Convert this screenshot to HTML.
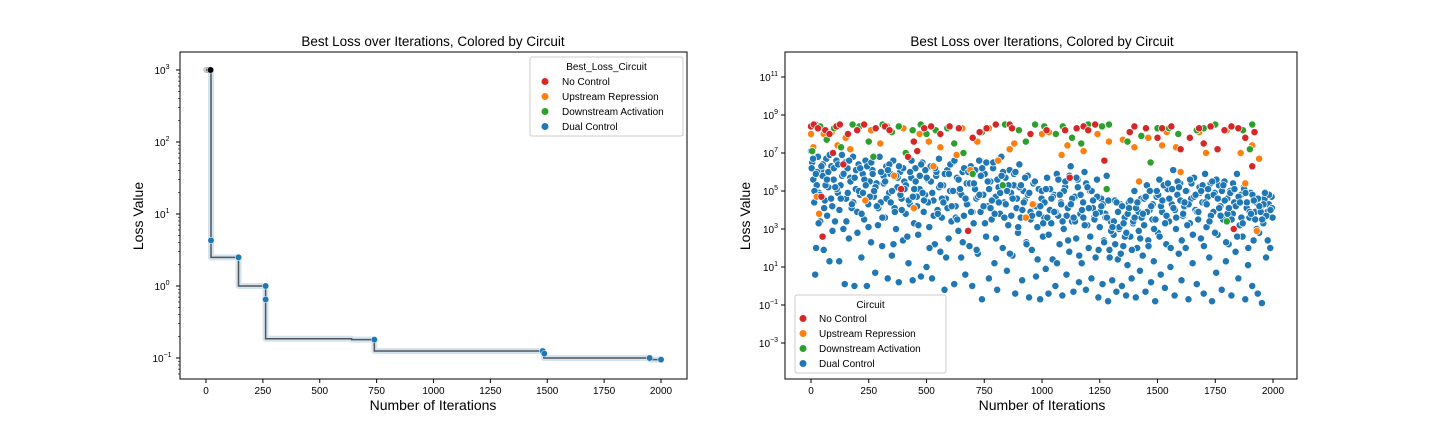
<!DOCTYPE html>
<html><head><meta charset="utf-8"><style>
body{margin:0;background:#fff;}
svg{display:block;font-family:"Liberation Sans","DejaVu Sans",sans-serif;}
</style></head><body>
<svg id="svg" width="1440" height="432" viewBox="0 0 1440 432" xmlns="http://www.w3.org/2000/svg">
<rect width="1440" height="432" fill="#fff"/>
<g id="left"></g>
<g id="right"></g>
</svg>
<script>
// ---------- Left chart data ----------
const stepIter = [0, 22, 143, 262, 640, 740, 1485, 1950, 2000];
const stepLoss = [1000, 2.5, 1.0, 0.185, 0.18, 0.125, 0.1, 0.095, 0.095];
const bestPtIter = [20, 22, 143, 262, 262, 740, 1480, 1487, 1950, 2000];
const bestPtLoss = [1000, 4.3, 2.5, 1.0, 0.65, 0.18, 0.125, 0.115, 0.1, 0.095];
const bestPtCircuit = ["none","dual","dual","dual","dual","dual","dual","dual","dual","dual"];
const leftYTicks = [-1, 0, 1, 2, 3];
const xTicks = [0, 250, 500, 750, 1000, 1250, 1500, 1750, 2000];
const rightYTicks = [-3, -1, 1, 3, 5, 7, 9, 11];
const circuitNames = ["No Control", "Upstream Repression", "Downstream Activation", "Dual Control"];

// ---------- Right chart data (iteration, log10 loss) ----------
const dualIter = [0,5,10,14,18,22,25,30,35,40,44,50,55,60,66,70,75,80,88,92,98,104,110,116,122,128,134,140,146,152,158,164,170,176,182,188,194,200,206,212,218,224,230,236,242,248,254,260,266,272,278,284,290,296,302,308,314,320,326,332,338,344,350,356,362,368,374,380,386,392,398,404,410,416,422,428,434,440,446,452,458,464,470,476,482,488,494,500,506,512,518,524,530,536,542,548,554,560,566,572,578,584,590,596,602,608,614,620,626,632,638,644,650,656,662,668,674,680,686,692,698,704,710,716,722,728,734,740,746,752,758,764,770,776,782,788,794,800,806,812,818,824,830,836,842,848,854,860,866,872,878,884,890,896,902,908,914,920,926,932,938,944,950,956,962,968,974,980,986,992,998,1004,1010,1016,1022,1028,1034,1040,1046,1052,1058,1064,1070,1076,1082,1088,1094,1100,1106,1112,1118,1124,1130,1136,1142,1148,1154,1160,1166,1172,1178,1184,1190,1196,1202,1208,1214,1220,1226,1232,1238,1244,1250,1256,1262,1268,1274,1280,1286,1292,1298,1304,1310,1316,1322,1328,1334,1340,1346,1352,1358,1364,1370,1376,1382,1388,1394,1400,1406,1412,1418,1424,1430,1436,1442,1448,1454,1460,1466,1472,1478,1484,1490,1496,1502,1508,1514,1520,1526,1532,1538,1544,1550,1556,1562,1568,1574,1580,1586,1592,1598,1604,1610,1616,1622,1628,1634,1640,1646,1652,1658,1664,1670,1676,1682,1688,1694,1700,1706,1712,1718,1724,1730,1736,1742,1748,1754,1760,1766,1772,1778,1784,1790,1796,1802,1808,1814,1820,1826,1832,1838,1844,1850,1856,1862,1868,1874,1880,1886,1892,1898,1904,1910,1916,1922,1928,1934,1940,1946,1952,1958,1964,1970,1976,1982,1988,1994,1998,
3,15,27,39,51,63,75,87,99,111,123,135,147,159,171,183,195,207,219,231,243,255,267,279,291,303,315,327,339,351,363,375,387,399,411,423,435,447,459,471,483,495,507,519,531,543,555,567,579,591,603,615,627,639,651,663,675,687,699,711,723,735,747,759,771,783,795,807,819,831,843,855,867,879,891,903,915,927,939,951,963,975,987,999,1011,1023,1035,1047,1059,1071,1083,1095,1107,1119,1131,1143,1155,1167,1179,1191,1203,1215,1227,1239,1251,1263,1275,1287,1299,1311,1323,1335,1347,1359,1371,1383,1395,1407,1419,1431,1443,1455,1467,1479,1491,1503,1515,1527,1539,1551,1563,1575,1587,1599,1611,1623,1635,1647,1659,1671,1683,1695,1707,1719,1731,1743,1755,1767,1779,1791,1803,1815,1827,1839,1851,1863,1875,1887,1899,1911,1923,1935,1947,1959,1971,1983,1995,
9,21,33,45,57,69,81,93,105,117,129,141,153,165,177,189,201,213,225,237,249,261,273,285,297,309,321,333,345,357,369,381,393,405,417,429,441,453,465,477,489,501,513,525,537,549,561,573,585,597,609,621,633,645,657,669,681,693,705,717,729,741,753,765,777,789,801,813,825,837,849,861,873,885,897,909,921,933,945,957,969,981,993,1005,1017,1029,1041,1053,1065,1077,1089,1101,1113,1125,1137,1149,1161,1173,1185,1197,1209,1221,1233,1245,1257,1269,1281,1293,1305,1317,1329,1341,1353,1365,1377,1389,1401,1413,1425,1437,1449,1461,1473,1485,1497,1509,1521,1533,1545,1557,1569,1581,1593,1605,1617,1629,1641,1653,1665,1677,1689,1701,1713,1725,1737,1749,1761,1773,1785,1797,1809,1821,1833,1845,1857,1869,1881,1893,1905,1917,1929,1941,1953,1965,1977,1989];
const dualLog10 = [7.1,6.5,5.6,4.4,0.6,2.0,5.3,6.8,4.9,3.4,6.1,5.8,1.9,4.5,6.7,3.7,5.2,1.3,6.3,4.2,5.6,3.4,6.6,4.9,1.3,5.3,6.9,3.0,0.1,4.6,6.2,2.5,5.7,4.1,6.8,0.0,5.1,3.9,6.4,4.8,1.5,5.9,3.5,6.6,0.0,4.3,5.5,2.3,6.1,4.7,0.7,5.4,3.2,6.8,4.4,2.1,5.8,3.6,6.3,0.4,4.9,5.9,1.6,6.6,4.1,3.0,5.2,0.2,6.0,4.6,2.4,5.5,3.8,6.9,1.2,4.3,5.7,0.3,3.3,6.2,4.7,2.7,5.1,0.5,6.5,3.9,4.8,1.0,5.6,3.1,6.3,0.4,4.5,2.2,5.8,4.0,6.7,1.8,3.6,5.3,-0.2,4.6,6.1,2.5,5.0,3.4,6.5,0.1,4.2,5.7,2.9,4.9,1.5,6.0,3.7,0.6,5.4,4.3,2.1,6.3,0.0,3.3,5.1,4.6,1.7,6.6,3.9,-0.7,4.8,5.9,2.6,4.2,0.4,5.5,3.5,6.2,1.2,4.7,-0.2,5.2,3.8,6.8,2.0,4.4,5.7,0.8,3.2,6.1,4.9,1.6,5.3,-0.4,4.1,2.8,6.4,3.6,0.3,5.0,4.5,2.3,5.8,-0.6,3.9,1.9,5.4,4.2,0.5,3.1,5.1,-0.7,4.6,2.6,3.6,0.9,5.7,-0.4,4.0,3.3,1.4,4.8,0.0,5.9,3.7,2.2,4.4,-0.5,3.0,5.2,0.6,4.1,1.8,6.3,3.4,-0.3,4.7,2.5,5.6,0.2,3.8,1.2,4.4,6.0,-0.2,3.2,2.0,5.0,0.4,4.1,3.6,1.5,5.6,-0.6,3.1,4.6,0.1,2.4,3.8,5.8,-0.8,1.9,3.4,0.3,2.7,4.5,-0.3,1.4,3.0,4.3,0.0,2.1,3.6,-0.5,1.1,4.4,2.6,0.4,3.3,5.0,-0.6,2.0,3.9,0.8,4.6,1.6,3.2,-0.3,5.3,2.4,4.0,0.2,3.5,1.3,-0.8,4.7,2.8,5.6,0.6,3.9,4.5,-0.1,2.2,5.1,3.4,1.0,4.3,6.1,-0.5,3.0,4.8,1.7,5.4,0.3,3.7,4.2,2.0,5.0,-0.7,3.3,4.6,1.2,5.7,4.0,0.1,3.5,5.2,2.5,4.4,-0.4,5.9,3.1,4.7,1.5,5.4,-0.8,3.9,4.9,0.7,2.7,5.3,4.2,-0.2,3.5,5.5,1.3,4.6,2.2,5.0,-0.5,3.8,4.4,1.8,5.9,0.4,3.2,4.8,2.6,5.2,-0.7,4.1,1.1,3.6,4.9,0.0,2.4,3.9,4.4,-0.4,2.8,4.0,-0.9,3.3,4.6,1.5,3.9,4.3,2.0,4.7,3.6,
6.2,5.0,6.0,4.8,6.4,5.3,6.0,4.6,6.2,5.1,4.0,5.8,6.5,4.9,5.5,4.4,6.1,5.0,3.8,5.6,6.3,4.7,5.9,5.2,4.1,6.0,5.4,4.6,6.4,5.0,3.9,5.7,4.8,6.2,5.3,4.5,6.6,5.1,4.2,5.8,4.9,6.1,4.4,5.5,3.7,6.0,5.2,4.6,5.9,4.1,6.4,5.0,3.6,5.6,4.8,6.2,4.3,5.4,3.9,6.1,4.7,5.8,4.2,6.5,5.1,4.5,3.8,5.6,4.9,6.0,4.3,5.3,3.7,5.9,4.6,5.2,4.0,5.7,4.8,3.5,5.4,4.2,3.8,5.0,4.4,3.6,5.1,4.7,3.9,5.6,4.3,5.0,3.7,5.8,4.6,3.4,5.2,4.8,3.6,5.4,4.1,5.0,3.5,4.7,3.9,4.3,3.6,4.5,2.9,3.4,4.4,3.1,4.2,2.6,3.8,4.5,3.4,4.1,2.9,3.6,4.6,3.9,5.0,4.3,3.5,4.8,4.2,5.3,3.7,4.6,5.1,4.0,5.5,4.5,3.8,5.0,4.3,5.4,4.7,3.9,4.9,5.3,4.4,5.1,3.7,4.8,5.6,4.1,5.0,4.5,3.8,4.9,5.4,4.2,4.7,3.6,5.1,4.4,3.9,4.8,3.5,4.6,3.9,4.3,3.7,4.8,4.1,
6.7,5.9,3.3,6.3,4.1,5.6,6.9,2.9,5.2,6.4,4.6,5.9,3.4,6.6,4.3,5.7,2.8,6.2,4.9,5.3,3.1,6.5,5.0,4.2,6.8,3.6,5.5,6.1,4.4,2.2,5.8,6.3,4.0,5.1,2.6,6.0,4.7,5.5,3.2,6.4,4.5,5.7,2.0,4.9,6.2,3.8,5.3,4.4,1.5,5.9,4.2,6.6,3.5,5.1,2.3,4.6,6.0,3.9,5.4,1.9,4.8,6.2,3.3,5.5,4.1,6.5,2.5,4.4,5.8,3.6,5.0,1.7,4.6,6.0,3.1,5.3,4.4,2.2,4.9,3.7,5.5,1.4,4.2,3.3,5.1,2.7,4.6,3.9,1.2,4.8,3.4,5.5,2.4,4.3,3.6,5.7,1.6,4.0,3.2,5.2,2.6,4.5,3.8,1.9,4.2,2.3,3.6,1.5,3.1,2.2,3.9,1.7,3.3,2.8,4.1,1.9,3.6,4.4,2.5,3.8,4.7,2.1,4.2,3.0,5.0,2.6,4.5,3.3,5.4,2.0,4.1,3.6,5.2,2.4,4.4,3.2,5.6,2.7,4.8,3.9,5.0,2.1,4.3,3.4,5.5,2.8,4.6,3.7,5.3,2.3,4.1,3.5,5.1,2.6,4.4,3.3,4.9,2.0,3.8,4.5,3.0,4.2,3.5,4.9,2.4,4.0];
const noCtrlIter = [0,12,30,45,50,62,80,95,110,125,140,160,200,230,280,320,340,390,420,445,460,490,520,560,600,640,680,700,730,760,800,860,870,950,1020,1100,1120,1150,1180,1200,1230,1270,1380,1400,1450,1500,1520,1560,1600,1640,1680,1700,1730,1760,1790,1820,1850,1880,1910,1920,1830];
const noCtrlLog10 = [8.4,8.5,8.3,4.7,2.6,8.2,8.0,7.0,8.4,8.5,6.4,8.0,8.2,8.5,8.3,8.4,8.2,5.1,6.8,7.6,7.1,8.3,8.4,8.0,8.4,8.3,2.9,7.8,8.1,8.3,8.5,8.5,8.3,8.0,8.2,8.2,5.7,8.3,8.4,8.2,8.5,6.6,8.1,8.4,8.3,7.8,8.3,8.4,7.2,7.8,8.3,7.5,8.4,7.2,8.2,8.4,8.3,7.8,6.3,8.1,3.0];
const upIter = [0,10,25,35,55,90,115,150,170,200,235,260,300,330,360,400,445,470,510,530,560,630,655,690,720,770,810,860,880,930,960,1000,1030,1085,1110,1180,1240,1290,1350,1400,1420,1460,1520,1540,1600,1680,1710,1760,1800,1860,1880,1910,1930,1940,1580];
const upLog10 = [8.0,7.3,4.7,3.8,8.0,8.1,7.4,7.8,7.2,8.3,4.5,8.2,7.5,8.4,5.8,8.3,4.1,8.0,7.6,6.3,7.3,6.9,8.3,6.1,7.6,8.3,6.6,7.2,7.5,3.6,4.3,8.0,8.1,6.9,7.4,7.1,8.0,7.6,7.7,7.3,5.5,7.8,7.4,8.1,6.0,8.1,7.0,7.2,8.2,7.0,5.4,7.4,2.9,6.7,7.3];
const downIter = [5,20,40,68,100,130,180,210,250,270,310,350,380,410,440,475,500,540,590,620,660,700,740,840,830,900,930,970,1010,1060,1090,1130,1170,1200,1260,1280,1290,1370,1430,1470,1500,1550,1590,1670,1700,1750,1800,1870,1900,1910];
const downLog10 = [7.1,8.5,8.4,7.7,8.3,7.3,8.5,8.4,7.6,6.8,8.5,8.1,8.4,7.0,8.2,8.5,8.0,8.2,8.3,7.5,7.0,5.9,8.1,8.5,5.3,8.2,7.6,8.5,8.4,8.0,8.4,7.8,7.5,8.5,8.4,5.1,8.5,7.6,7.9,6.5,8.3,8.3,8.0,8.2,8.3,8.5,3.4,8.2,7.2,8.5];

const COLORS = {none:"#000000", no:"#d62728", up:"#ff7f0e", down:"#2ca02c", dual:"#1f77b4"};
const NS = "http://www.w3.org/2000/svg";
function mk(tag, attrs, parent){ const e=document.createElementNS(NS,tag); for(const k in attrs) e.setAttribute(k,attrs[k]); parent.appendChild(e); return e; }

// ---------- Left chart ----------
const L = {x0:180, x1:687, y0:52, y1:379};
const lx = v => 206 + v*(661-206)/2000;
const ly = v => 286 - Math.log10(v)*72;
const left = document.getElementById('left');

let lineD = "";
for (let i=0;i<stepIter.length;i++){
  const x=lx(stepIter[i]), y=ly(stepLoss[i]);
  if(i===0){ lineD += `M${x},${y}`; }
  else { lineD += `H${x}V${y}`; }
}
const band = mk('path',{d:lineD,fill:'none',stroke:'#1f77b4','stroke-opacity':0.2,'stroke-width':6,'stroke-linejoin':'round'},left);


const grayBand = mk('path',{d:`M${lx(0)},${ly(1000)}H${lx(20)}`,stroke:'#000','stroke-opacity':0.2,'stroke-width':6,'stroke-linecap':'round'},left);


const stepLine = mk('path',{d:lineD,fill:'none',stroke:'#555','stroke-width':1.5},left);


for (let i=0;i<bestPtIter.length;i++){
  const c = mk('circle',{cx:lx(bestPtIter[i]),cy:ly(bestPtLoss[i]),r:3.2,fill:COLORS[bestPtCircuit[i]],stroke:'#fff','stroke-width':0.5},left);
  
  
}
const lframe = mk('rect',{x:L.x0,y:L.y0,width:L.x1-L.x0,height:L.y1-L.y0,fill:'none',stroke:'#000','stroke-width':1},left);


xTicks.forEach(t=>{
  const x=lx(t);
  const tk=mk('line',{x1:x,x2:x,y1:L.y1,y2:L.y1+4,stroke:'#000'},left);
  
  
  const tx=mk('text',{x:x,y:L.y1+15,'font-size':10,'text-anchor':'middle'},left); tx.textContent=t;
  
  
});
leftYTicks.forEach(t=>{
  const y=ly(Math.pow(10,t));
  const tk=mk('line',{x1:L.x0-4,x2:L.x0,y1:y,y2:y,stroke:'#000'},left);
  
  
  const tx=mk('text',{x:L.x0-18,y:y+4,'font-size':10,'text-anchor':'middle'},left);
  tx.innerHTML=`10<tspan dy="-5" font-size="7">${t<0?'\u2212'+(-t):t}</tspan>`;
  
  
  for(let m=2;m<10;m++){
    const v=Math.pow(10,t)*m; const yy=ly(v);
    if(yy<L.y0||yy>L.y1) continue;
    const mt=mk('line',{x1:L.x0-2,x2:L.x0,y1:yy,y2:yy,stroke:'#000','stroke-width':0.6},left);
    
    
  }
});
[0.06,0.07,0.08,0.09].forEach(v=>{const yy=ly(v); if(yy<=L.y1){const mt=mk('line',{x1:L.x0-2,x2:L.x0,y1:yy,y2:yy,stroke:'#000','stroke-width':0.6},left);
  
  }});

function txt(parent, x, y, s, size, anchor, name, extra){
  const t=mk('text',Object.assign({x:x,y:y,'font-size':size,'text-anchor':anchor},extra||{}),parent); t.textContent=s;
  
  
  return t;
}
txt(left,433,46,"Best Loss over Iterations, Colored by Circuit",13.5,'middle','left-chart-title');
txt(left,433,410,"Number of Iterations",14,'middle','left-x-axis-title');
txt(left,143,216,"Loss Value",14,'middle','left-y-axis-title',{transform:'rotate(-90 143 216)'});

function legend(parent, bx, by, bw, bh, title, tx, mx, ty0, name){
  const g=mk('g',{},parent);
  
  
  const r=mk('rect',{x:bx,y:by,width:bw,height:bh,rx:2,fill:'#fff','fill-opacity':0.85,stroke:'#ccc'},g);
  
  
  txt(g,bx+bw/2,by+13,title,10,'middle','legend-title');
  const cols=[COLORS.no,COLORS.up,COLORS.down,COLORS.dual];
  circuitNames.forEach((n,i)=>{
    const y=ty0+i*15;
    const c=mk('circle',{cx:mx,cy:y-3.5,r:3.5,fill:cols[i]},g);
    
    
    const t=txt(g,tx,y,n,10,'start','legend-entry');
    
  });
}
legend(left,530,57,153,79,"Best_Loss_Circuit",562,545,85,'left-legend');

// ---------- Right chart ----------
const R = {x0:785, x1:1297, y0:52, y1:379};
const rx = v => 811 + v*(1273-811)/2000;
const ry = lg => 305 - (lg+1)*19;
const right = document.getElementById('right');
function scatter(iters, logs, color, name){
  for(let i=0;i<iters.length;i++){
    const c=mk('circle',{cx:rx(iters[i]),cy:ry(logs[i]),r:3.6,fill:color,stroke:'#fff','stroke-width':0.7},right);
    
    
  }
}
scatter(dualIter,dualLog10,COLORS.dual,'dual-control-point');
scatter(upIter,upLog10,COLORS.up,'upstream-repression-point');
scatter(downIter,downLog10,COLORS.down,'downstream-activation-point');
scatter(noCtrlIter,noCtrlLog10,COLORS.no,'no-control-point');
const rframe = mk('rect',{x:R.x0,y:R.y0,width:R.x1-R.x0,height:R.y1-R.y0,fill:'none',stroke:'#000','stroke-width':1},right);


xTicks.forEach(t=>{
  const x=rx(t);
  const tk=mk('line',{x1:x,x2:x,y1:R.y1,y2:R.y1+4,stroke:'#000'},right);
  
  
  txt(right,x,R.y1+15,String(t),10,'middle','x-tick-label');
});
rightYTicks.forEach(t=>{
  const y=ry(t);
  const tk=mk('line',{x1:R.x0-4,x2:R.x0,y1:y,y2:y,stroke:'#000'},right);
  
  
  const tx=mk('text',{x:R.x0-7,y:y+4,'font-size':10,'text-anchor':'end'},right);
  tx.innerHTML=`10<tspan dy="-5" font-size="7">${t<0?'\u2212'+(-t):t}</tspan>`;
  
  
});
txt(right,1042,46,"Best Loss over Iterations, Colored by Circuit",13.5,'middle','right-chart-title');
txt(right,1042,410,"Number of Iterations",14,'middle','right-x-axis-title');
txt(right,750,216,"Loss Value",14,'middle','right-y-axis-title',{transform:'rotate(-90 750 216)'});
legend(right,795,295,151,78,"Circuit",819,803,322,'right-legend');
</script>
</body></html>
